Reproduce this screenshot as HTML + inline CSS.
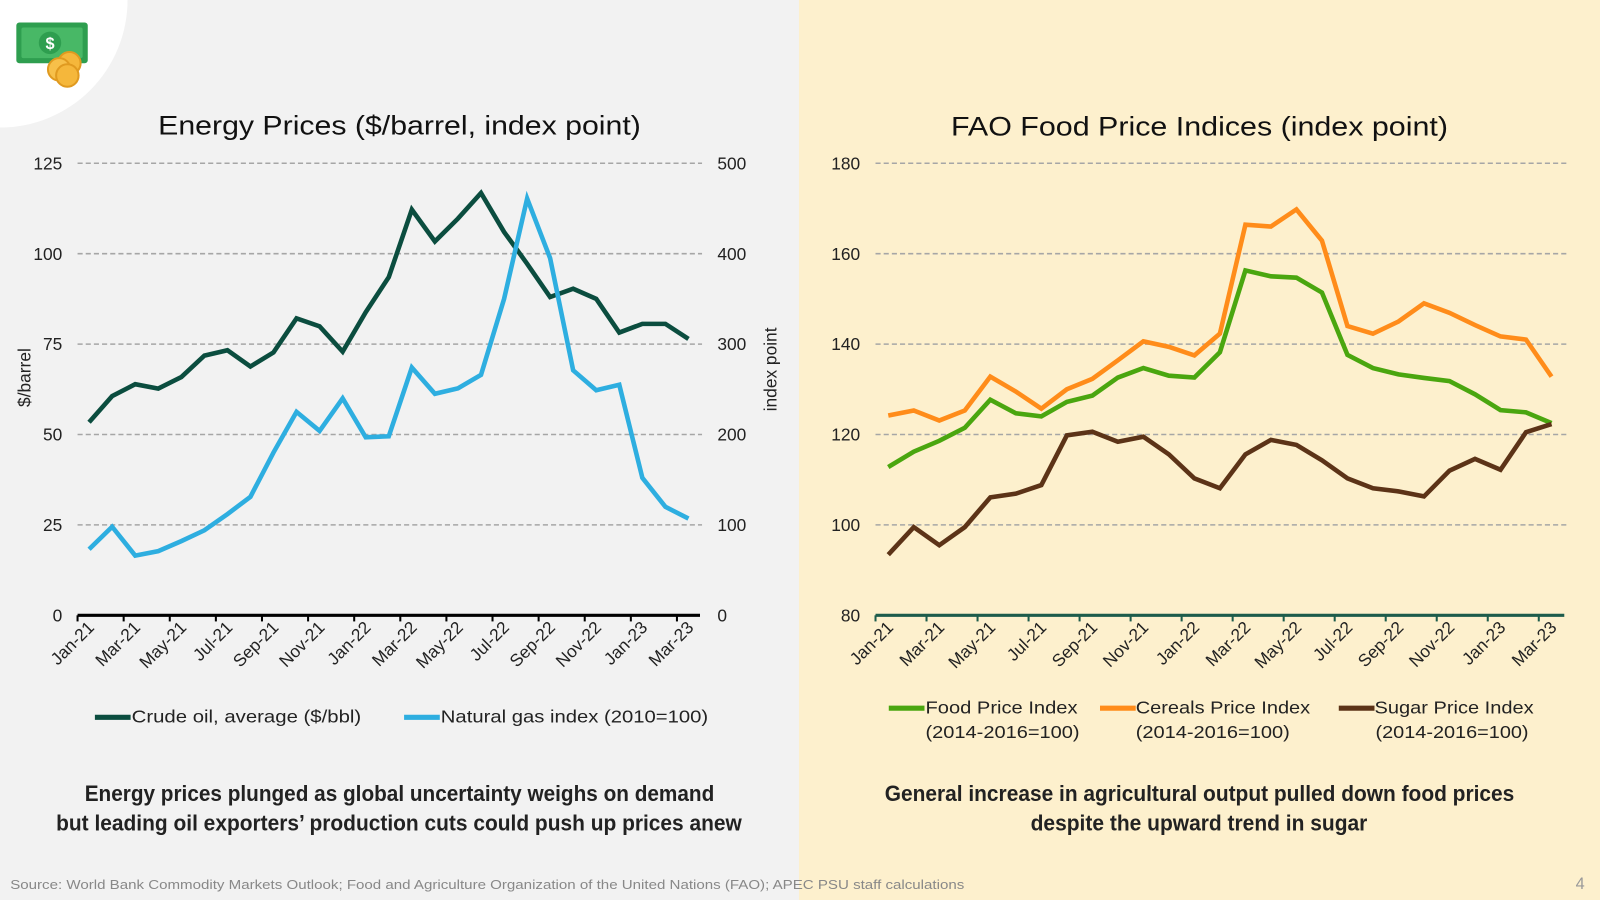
<!DOCTYPE html>
<html><head><meta charset="utf-8"><style>
html,body{margin:0;padding:0;width:1600px;height:900px;overflow:hidden;font-family:"Liberation Sans",sans-serif}
svg{display:block}
</style></head><body>
<svg id="root" width="1600" height="900" viewBox="0 0 1568 882" xmlns="http://www.w3.org/2000/svg">
<rect x="0" y="0" width="783" height="882" fill="#f2f2f2"/>
<rect x="783" y="0" width="785" height="882" fill="#fdf0cd"/>
<path d="M0 0 H125 A125 125 0 0 1 0 125 Z" fill="#ffffff"/>
<g>
<rect x="16" y="22" width="70" height="40" rx="3" fill="#2e9e4f"/>
<rect x="21" y="27" width="60" height="30" rx="2" fill="#48b866"/>
<circle cx="49" cy="42" r="11" fill="#2e9e4f"/>
<text x="49" y="48" font-size="16" font-weight="bold" fill="#fff" text-anchor="middle">$</text>
<circle cx="68" cy="62" r="11" fill="#f5b73b" stroke="#e09a20" stroke-width="2"/>
<circle cx="58" cy="68" r="11" fill="#f7c04a" stroke="#e09a20" stroke-width="2"/>
<circle cx="66" cy="74" r="11" fill="#f5b73b" stroke="#e09a20" stroke-width="2"/>
</g>
<text x="155" y="132" font-size="26" textLength="473" lengthAdjust="spacingAndGlyphs" fill="#111">Energy Prices ($/barrel, index point)</text>
<text x="932" y="133" font-size="26" textLength="487" lengthAdjust="spacingAndGlyphs" fill="#111">FAO Food Price Indices (index point)</text>
<g id="left"></g>
<g id="right"></g>
<g>
<line x1="93" y1="703" x2="128" y2="703" stroke="#0b4d3f" stroke-width="5"/>
<text x="129" y="708" font-size="17" textLength="225" lengthAdjust="spacingAndGlyphs" fill="#222">Crude oil, average ($/bbl)</text>
<line x1="396" y1="703" x2="431" y2="703" stroke="#2eaee0" stroke-width="5"/>
<text x="432" y="708" font-size="17" textLength="262" lengthAdjust="spacingAndGlyphs" fill="#222">Natural gas index (2010=100)</text>
</g>
<g font-size="17" fill="#222">
<line x1="871" y1="694" x2="906" y2="694" stroke="#4aa60f" stroke-width="5"/>
<text x="907" y="699" textLength="149" lengthAdjust="spacingAndGlyphs">Food Price Index</text>
<text x="907" y="723" textLength="151" lengthAdjust="spacingAndGlyphs">(2014-2016=100)</text>
<line x1="1078" y1="694" x2="1113" y2="694" stroke="#ff8c1a" stroke-width="5"/>
<text x="1113" y="699" textLength="171" lengthAdjust="spacingAndGlyphs">Cereals Price Index</text>
<text x="1113" y="723" textLength="151" lengthAdjust="spacingAndGlyphs">(2014-2016=100)</text>
<line x1="1312" y1="694" x2="1347" y2="694" stroke="#5c3317" stroke-width="5"/>
<text x="1347" y="699" textLength="156" lengthAdjust="spacingAndGlyphs">Sugar Price Index</text>
<text x="1348" y="723" textLength="150" lengthAdjust="spacingAndGlyphs">(2014-2016=100)</text>
</g>
<g font-weight="bold" font-size="22" fill="#222" lengthAdjust="spacingAndGlyphs">
<text x="83" y="785" textLength="617" lengthAdjust="spacingAndGlyphs">Energy prices plunged as global uncertainty weighs on demand</text>
<text x="55" y="814" textLength="672" lengthAdjust="spacingAndGlyphs">but leading oil exporters’ production cuts could push up prices anew</text>
<text x="867" y="785" textLength="617" lengthAdjust="spacingAndGlyphs">General increase in agricultural output pulled down food prices</text>
<text x="1010" y="814" textLength="330" lengthAdjust="spacingAndGlyphs">despite the upward trend in sugar</text>
</g>
<text x="10" y="871" font-size="13" textLength="935" lengthAdjust="spacingAndGlyphs" fill="#888">Source: World Bank Commodity Markets Outlook; Food and Agriculture Organization of the United Nations (FAO); APEC PSU staff calculations</text>
<text x="1553" y="871" font-size="16" fill="#999" text-anchor="end">4</text>
</svg>
<script>
const months = ["Jan-21","Feb-21","Mar-21","Apr-21","May-21","Jun-21","Jul-21","Aug-21","Sep-21","Oct-21","Nov-21","Dec-21","Jan-22","Feb-22","Mar-22","Apr-22","May-22","Jun-22","Jul-22","Aug-22","Sep-22","Oct-22","Nov-22","Dec-22","Jan-23","Feb-23","Mar-23"];
const crudeOil = [53.4,60.6,63.9,62.7,65.9,71.8,73.3,68.8,72.7,82.1,79.9,72.9,83.8,93.5,112.2,103.4,109.7,116.8,106,97.2,88,90.3,87.5,78.2,80.6,80.6,76.4];
const naturalGas = [73,98,66,71,82,94,112,131,180,225,204,240,197,198,274,245,251,266,350,461,395,271,249,255,152,120,107];
const foodIndex = [112.8,116.2,118.6,121.5,127.7,124.7,124,127.2,128.6,132.6,134.7,133,132.6,138.2,156.3,155,154.7,151.4,137.6,134.7,133.3,132.5,131.8,128.9,125.4,124.9,122.5];
const cerealsIndex = [124.2,125.3,123.1,125.3,132.8,129.5,125.7,130,132.3,136.4,140.6,139.4,137.5,142.3,166.4,166,169.8,162.9,144,142.3,145,149,146.9,144.2,141.7,141,132.8];
const sugarIndex = [93.4,99.5,95.5,99.5,106.1,106.9,108.8,119.8,120.6,118.4,119.5,115.6,110.3,108.1,115.6,118.8,117.7,114.3,110.3,108.1,107.4,106.3,112,114.6,112.2,120.5,122.3];
const leftTicks = [0,25,50,75,100,125];
const rightTicksL = [0,100,200,300,400,500];
const foodTicks = [80,100,120,140,160,180];

const NS="http://www.w3.org/2000/svg";
function mk(tag,attrs,parent,txt){const e=document.createElementNS(NS,tag);for(const k in attrs)e.setAttribute(k,attrs[k]);if(txt!==undefined)e.textContent=txt;parent.appendChild(e);return e;}

function drawChart(g,cfg){
  const x0=cfg.x0,x1=cfg.x1,yTop=160,yBot=603;
  const bw=(x1-x0)/months.length;
  const xs=i=>x0+bw*(i+0.5);
  const ys=(v,mn,mx)=>yBot-(v-mn)/(mx-mn)*(yBot-yTop);
  cfg.ticks.forEach((t,i)=>{
    const y=ys(t,cfg.min,cfg.max);
    if(i>0){const gl=mk('line',{x1:x0,x2:cfg.gridEnd,y1:y,y2:y,stroke:'#a6a6a6','stroke-width':1.5,'stroke-dasharray':'5,3'},g);
      
      }
    const tl=mk('text',{x:cfg.x0-15,y:y+6,'font-size':17,'text-anchor':'end',fill:'#222'},g,String(t));
    
    
  });
  if(cfg.rticks){cfg.rticks.forEach(t=>{
    const y=ys(t,0,500);
    const tl=mk('text',{x:703,y:y+6,'font-size':17,fill:'#222'},g,String(t));
    
    
  });}
  const ax=mk('line',{x1:x0,x2:x1,y1:yBot,y2:yBot,stroke:cfg.axisColor,'stroke-width':3},g);
  
  
  for(let i=0;i<=months.length;i+=2){
    const tx=x0+bw*i;
    const tk=mk('line',{x1:tx,x2:tx,y1:yBot,y2:yBot+6,stroke:cfg.axisColor,'stroke-width':2},g);
    
    
  }
  months.forEach((m,i)=>{
    if(i%2)return;
    const px=xs(i)+6,py=616;
    const tl=mk('text',{x:px,y:py,'font-size':17,'text-anchor':'end',fill:'#222',transform:`rotate(-45 ${px} ${py})`},g,m);
    
    
  });
  cfg.series.forEach(s=>{
    const pts=s.data.map((v,i)=>xs(i).toFixed(1)+','+ys(v,s.min,s.max).toFixed(1)).join(' ');
    const pl=mk('polyline',{points:pts,fill:'none',stroke:s.color,'stroke-width':4.5,'stroke-linejoin':'miter'},g);
    
    
  });
}
const L=document.getElementById('left');


drawChart(L,{x0:76,x1:686,gridEnd:688,min:0,max:125,ticks:leftTicks,rticks:rightTicksL,axisColor:'#000',
  series:[{data:crudeOil,min:0,max:125,color:'#0b4d3f',name:'crude-oil-line'},{data:naturalGas,min:0,max:500,color:'#2eaee0',name:'natural-gas-line'}]});
const lt=mk('text',{x:30,y:370,'font-size':17,'text-anchor':'middle',fill:'#222',transform:'rotate(-90 30 370)'},L,'$/barrel');


const rt=mk('text',{x:761,y:362,'font-size':17,'text-anchor':'middle',fill:'#222',transform:'rotate(-90 761 362)'},L,'index point');


const R=document.getElementById('right');


drawChart(R,{x0:858,x1:1533,gridEnd:1535,min:80,max:180,ticks:foodTicks,axisColor:'#1d5c4b',
  series:[{data:cerealsIndex,min:80,max:180,color:'#ff8c1a',name:'cereals-index-line'},{data:foodIndex,min:80,max:180,color:'#4aa60f',name:'food-index-line'},{data:sugarIndex,min:80,max:180,color:'#5c3317',name:'sugar-index-line'}]});
</script>
</body></html>
